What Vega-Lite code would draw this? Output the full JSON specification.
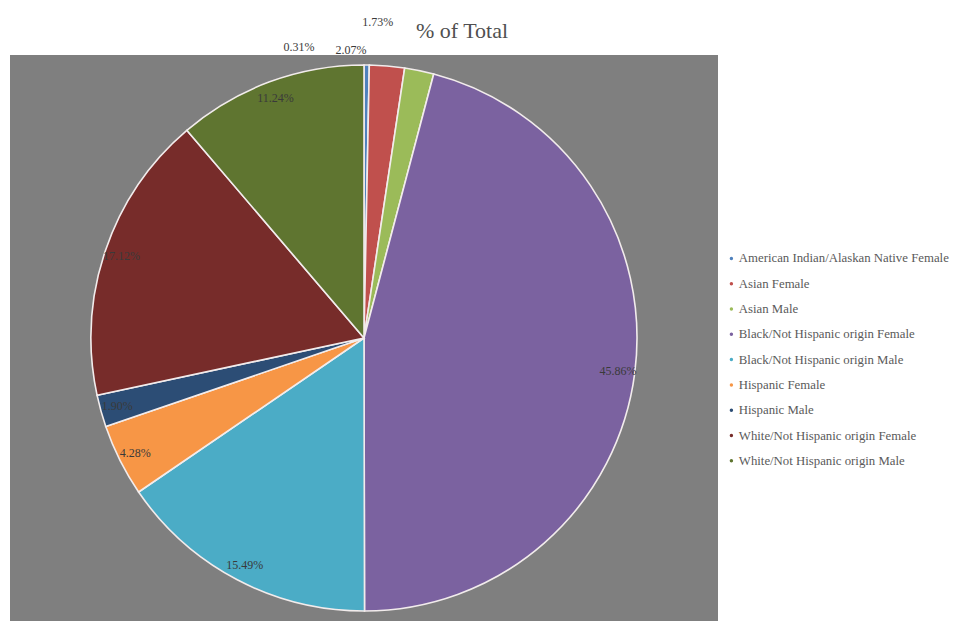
{
  "$schema": "https://vega.github.io/schema/vega-lite/v6.json",
  "width": 708,
  "height": 566,
  "autosize": {"type": "none"},
  "padding": {"left": 10, "top": 55, "right": 236, "bottom": 0},
  "background": "white",
  "view": {"fill": "#7f7f7f", "stroke": null},
  "title": {"text": "% of Total", "anchor": "middle", "dx": 98, "offset": -27, "font": "Liberation Serif", "fontSize": 22, "fontWeight": "normal", "color": "#505050"},
  "data": {"values": [
    {"cat": "American Indian/Alaskan Native Female", "share": 0.0031},
    {"cat": "Asian Female", "share": 0.0207},
    {"cat": "Asian Male", "share": 0.0173},
    {"cat": "Black/Not Hispanic origin Female", "share": 0.4586},
    {"cat": "Black/Not Hispanic origin Male", "share": 0.1549},
    {"cat": "Hispanic Female", "share": 0.0428},
    {"cat": "Hispanic Male", "share": 0.0190},
    {"cat": "White/Not Hispanic origin Female", "share": 0.1712},
    {"cat": "White/Not Hispanic origin Male", "share": 0.1124}
  ]},
  "layer": [
    {
      "mark": {"type": "arc", "outerRadius": 273, "stroke": "#f2ecec", "strokeWidth": 1.6},
      "encoding": {
        "theta": {"field": "share", "type": "quantitative", "stack": true},
        "order": {"field": "cat", "type": "nominal", "sort": "ascending"},
        "color": {
          "field": "cat", "type": "nominal",
          "scale": {
            "domain": ["American Indian/Alaskan Native Female", "Asian Female", "Asian Male", "Black/Not Hispanic origin Female", "Black/Not Hispanic origin Male", "Hispanic Female", "Hispanic Male", "White/Not Hispanic origin Female", "White/Not Hispanic origin Male"],
            "range": ["#4F81BD", "#C0504D", "#9BBB59", "#7B62A0", "#4BACC6", "#F79646", "#2C4D75", "#772C2A", "#5F7530"]
          },
          "legend": {
            "title": null,
            "orient": "none",
            "legendX": 715,
            "legendY": 197,
            "symbolType": "circle",
            "symbolSize": 12,
            "symbolStrokeWidth": 0,
            "labelFont": "Liberation Serif",
            "labelFontSize": 12.8,
            "labelColor": "#5a5a5a",
            "labelLimit": 300,
            "labelOffset": 1,
            "rowPadding": 11.3
          }
        }
      }
    },
    {
      "mark": {
        "type": "text",
        "radius": {"expr": "datum.cat == 'American Indian/Alaskan Native Female' ? 298 : datum.cat == 'Asian Female' ? 288 : datum.cat == 'Asian Male' ? 316 : 256"},
        "thetaOffset": {"expr": "datum.cat == 'American Indian/Alaskan Native Female' ? -0.23 : datum.cat == 'Asian Female' ? -0.13 : datum.cat == 'Asian Male' ? -0.16 : 0"},
        "font": "Liberation Serif",
        "fontSize": 12,
        "color": "#3a3a3a"
      },
      "encoding": {
        "theta": {"field": "share", "type": "quantitative", "stack": true},
        "order": {"field": "cat", "type": "nominal", "sort": "ascending"},
        "detail": {"field": "cat", "type": "nominal"},
        "text": {"field": "share", "type": "quantitative", "format": ".2%"}
      }
    }
  ]
}
